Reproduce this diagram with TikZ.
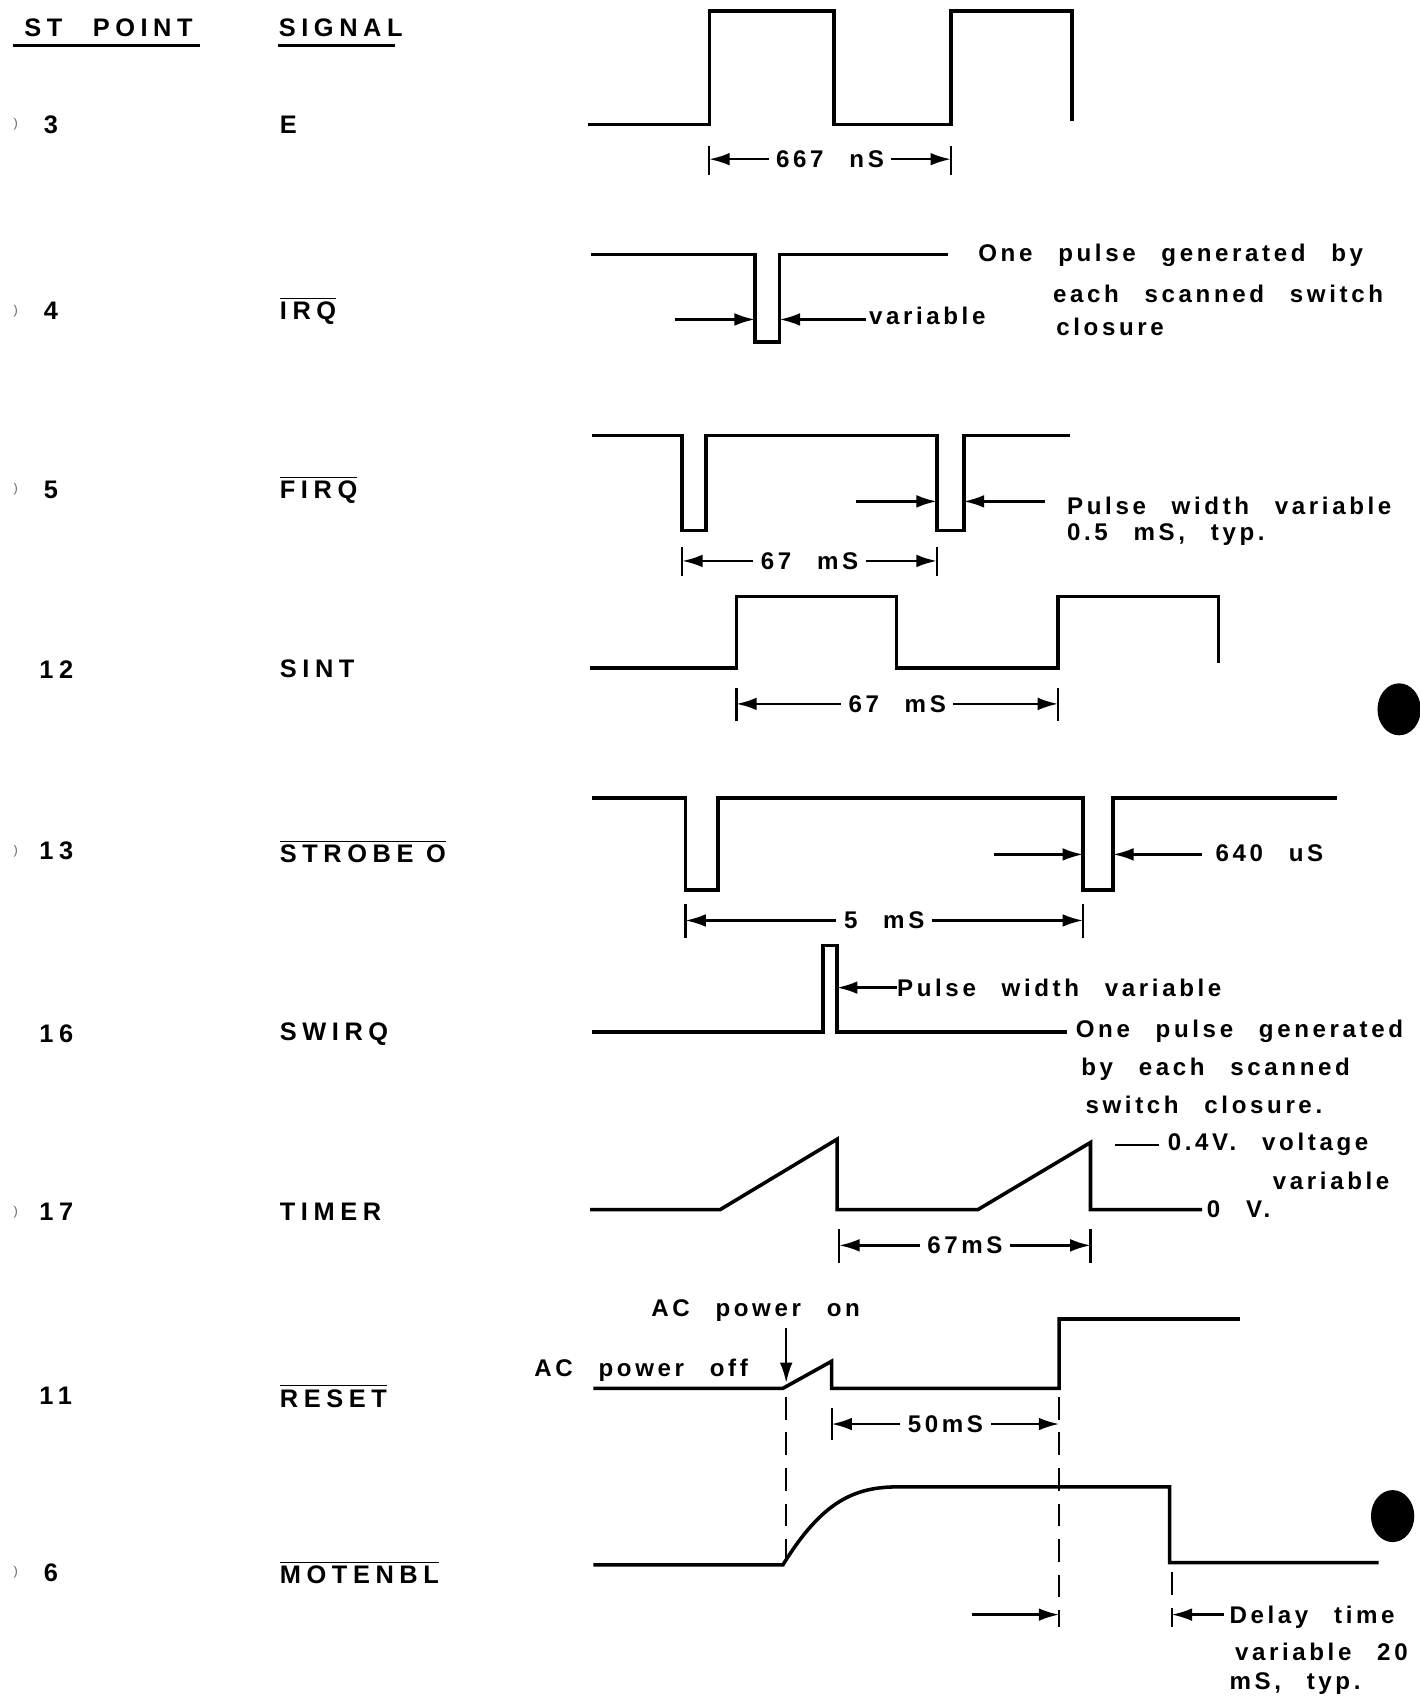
\documentclass[tikz,border=0pt]{standalone}
\usepackage{fontspec}
\setmainfont{Liberation Sans}
\newfontfamily\pinfont[LetterSpace=22]{Liberation Sans}
\newfontfamily\notefont[LetterSpace=15,WordSpace=2.5]{Liberation Sans}
\usetikzlibrary{arrows.meta,positioning}

\newcommand{\negsig}[1]{$\overline{\mbox{#1}}$}

\tikzset{
  wave/.style={line width=1.4pt, line join=miter},
  tick/.style={line width=0.9pt},
  dim/.style={line width=0.9pt, {Latex[length=8pt,width=5pt]}-{Latex[length=8pt,width=5pt]}},
  arr/.style={line width=0.9pt, -{Latex[length=8pt,width=5pt]}},
  guide/.style={line width=0.9pt, dash pattern=on 9pt off 5pt},
  lbl/.style={fill=white, inner sep=3pt, font=\notefont\bfseries\fontsize{9.5}{11}\selectfont},
  note/.style={anchor=west, inner sep=0pt, font=\notefont\bfseries\fontsize{9.5}{11}\selectfont},
  pin/.style={anchor=west, inner sep=0pt, font=\pinfont\bfseries\fontsize{10}{12}\selectfont},
  hole/.style={fill=black},
}

\begin{document}
\begin{tikzpicture}[x=0.015cm, y=-0.015cm]
\useasboundingbox (0,0) rectangle (1311,1568);

% column heads
\node[pin] (hdpoint) at (22,26) {ST\hspace{1.2em}POINT};
\node[pin] (hdsignal) at (257,26) {SIGNAL};
\draw[tick] (12,42) -- (185,42);
\draw[tick] (257,42) -- (365,42);

% test points
\node[pin] (tp3) at (40,115) {3};
\node[pin] (tp4) at (40,287) {4};
\node[pin] (tp5) at (40,452) {5};
\node[pin] (tp12) at (36,618) {12};
\node[pin] (tp13) at (36,786) {13};
\node[pin] (tp16) at (36,955) {16};
\node[pin] (tp17) at (36,1119) {17};
\node[pin] (tp11) at (36,1289) {11};
\node[pin] (tp6) at (40,1452) {6};
\foreach \y in {115,287,452,786,1119,1452}
  \node[anchor=west, inner sep=0pt, font=\tiny, text=black!60] at (12,\y) {)};

% signal names
\node[pin] (sgE) at (258,115) {E};
\node[pin] (sgIRQ) at (258,287) {\negsig{IRQ}};
\node[pin] (sgFIRQ) at (258,452) {\negsig{FIRQ}};
\node[pin] (sgSINT) at (258,618) {SINT};
\node[pin] (sgSTROBE) at (258,786) {\negsig{STROBE\hspace{0.5em}O}};
\node[pin] (sgSWIRQ) at (258,955) {SWIRQ};
\node[pin] (sgTIMER) at (258,1119) {TIMER};
\node[pin] (sgRESET) at (258,1289) {\negsig{RESET}};
\node[pin] (sgMOTENBL) at (258,1452) {\negsig{MOTENBL}};

% E
\draw[wave] (543,115) -- (655,115) -- (655,10) -- (770,10) -- (770,115) -- (878,115) -- (878,10) -- (990,10) -- (990,112);
\draw[tick] (655,135) -- (655,162) (878,135) -- (878,162);
\draw[dim] (655,147) -- node[lbl] (dimE) {667 nS} (878,147);

% IRQ
\draw[wave] (546,235) -- (697,235) -- (697,316) -- (720,316) -- (720,235) -- (875,235);
\draw[arr] (623,295) -- (697,295);
\draw[arr] (800,295) -- (720,295);
\node[note] (varIRQ) at (802,292) {variable};
\node[note] (irq1) at (903,236) {One pulse generated by};
\node[note] (irq2) at (972,271) {each scanned switch};
\node[note] (irq3) at (975,302) {closure};

% FIRQ
\draw[wave] (547,402) -- (630,402) -- (630,490) -- (652,490) -- (652,402) -- (865,402) -- (865,490) -- (890,490) -- (890,402) -- (988,402);
\draw[arr] (790,463) -- (865,463);
\draw[arr] (965,463) -- (890,463);
\node[note] (firq1) at (985,467) {Pulse width variable};
\node[note] (firq2) at (985,494) {0.5 mS, typ.};
\draw[tick] (630,505) -- (630,532) (865,505) -- (865,532);
\draw[dim] (630,518) -- node[lbl] (dimFIRQ) {67 mS} (865,518);

% SINT
\draw[wave] (545,617) -- (680,617) -- (680,551) -- (828,551) -- (828,617) -- (977,617) -- (977,551) -- (1125,551) -- (1125,612);
\draw[tick] (680,635) -- (680,666) (977,635) -- (977,666);
\draw[dim] (680,650) -- node[lbl] (dimSINT) {67 mS} (977,650);

% STROBE O
\draw[wave] (547,737) -- (633,737) -- (633,822) -- (663,822) -- (663,737) -- (1000,737) -- (1000,822) -- (1028,822) -- (1028,737) -- (1235,737);
\draw[arr] (918,789) -- (1000,789);
\draw[arr] (1110,789) -- (1028,789);
\node[note] (strobe1) at (1122,788) {640 uS};
\draw[tick] (633,835) -- (633,866) (1000,835) -- (1000,866);
\draw[dim] (633,850) -- node[lbl] (dimSTROBE) {5 mS} (1000,850);

% SWIRQ
\draw[wave] (547,953) -- (760,953) -- (760,873) -- (773,873) -- (773,953) -- (985,953);
\draw[arr] (828,912) -- (773,912);
\node[note] (swirq0) at (828,912) {Pulse width variable};
\node[note] (swirq1) at (993,952) {One pulse generated};
\node[note] (swirq2) at (998,987) {by each scanned};
\node[note] (swirq3) at (1002,1020) {switch closure.};

% TIMER
\draw[wave] (545,1117) -- (665,1117) -- (773,1052) -- (773,1117) -- (903,1117) -- (1007,1055) -- (1007,1117) -- (1110,1117);
\node[note] (timer0) at (1114,1117) {0 V.};
\draw[tick] (1030,1057) -- (1070,1057);
\node[note] (timer1) at (1078,1057) {0.4V. voltage};
\node[note] (timer2) at (1175,1090) {variable};
\draw[tick] (775,1135) -- (775,1166) (1007,1135) -- (1007,1166);
\draw[dim] (775,1150) -- node[lbl] (dimTIMER) {67mS} (1007,1150);

% RESET
\draw[wave] (548,1282) -- (723,1282) -- (768,1257) -- (768,1282) -- (978,1282) -- (978,1218) -- (1145,1218);
\node[note] (acon) at (601,1210) {AC power on};
\node[note] (acoff) at (493,1265) {AC power off};
\coordinate (onpt) at (726,1277);
\draw[arr] (726,1226) -- (onpt);
\draw[tick] (768,1300) -- (768,1330);
\draw[dim] (768,1315) -- node[lbl] (dimRESET) {50mS} (978,1315);
\draw[guide] (726,1290) -- (726,1443);
\draw[guide] (978,1290) -- (978,1502);

% MOTENBL
\draw[wave] (548,1445) -- (723,1445) .. controls (760,1385) and (790,1373) .. (830,1373) -- (1080,1373) -- (1080,1443) -- (1273,1443);
\draw[arr] (898,1491) -- (978,1491);
\draw[guide] (1082,1452) -- (1082,1502);
\draw[arr] (1130,1491) -- (1082,1491);
\node[note] (mot1) at (1135,1493) {Delay time};
\node[note] (mot2) at (1140,1525) {variable 20};
\node[note] (mot3) at (1135,1555) {mS, typ.};

% punch holes
\fill[hole] (1292,655) ellipse [x radius=0.3cm, y radius=0.36cm];
\fill[hole] (1286,1400) ellipse [x radius=0.3cm, y radius=0.36cm];
\end{tikzpicture}
\end{document}
